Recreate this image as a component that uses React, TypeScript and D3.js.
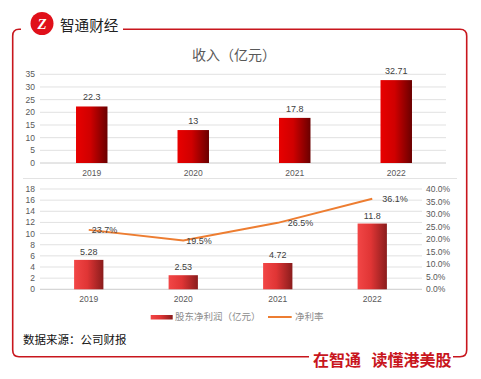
import React from "react";
import * as d3 from "d3";

const years = ["2019", "2020", "2021", "2022"];
const revenue = [22.3, 13, 17.8, 32.71];
const revenueLabels = ["22.3", "13", "17.8", "32.71"];
const profit = [5.28, 2.53, 4.72, 11.8];
const profitLabels = ["5.28", "2.53", "4.72", "11.8"];
const margin = [0.237, 0.195, 0.265, 0.361];
const marginLabels = ["23.7%", "19.5%", "26.5%", "36.1%"];
const topTicks = [0, 5, 10, 15, 20, 25, 30, 35];
const leftTicks = [0, 2, 4, 6, 8, 10, 12, 14, 16, 18];
const rightTicks = [0, 0.05, 0.1, 0.15, 0.2, 0.25, 0.3, 0.35, 0.4];

const RED = "#c8161d";
const AX = "#595959";
const GRID = "#d9d9d9";
const FONT = "'Liberation Sans', 'Noto Sans CJK SC', sans-serif";
const CJK = "'Noto Sans CJK SC', sans-serif";

export default function App() {
  const yTop = d3.scaleLinear().domain([0, 35]).range([163, 74.3]);
  const xTop = d3.scaleBand<string>().domain(years).range([41, 447]).paddingInner(0.69).paddingOuter(0.345);
  const yL = d3.scaleLinear().domain([0, 18]).range([289.3, 189]);
  const yR = d3.scaleLinear().domain([0, 0.4]).range([289.3, 189]);
  const xB = d3.scaleBand<string>().domain(years).range([41.5, 419.5]).paddingInner(0.69).paddingOuter(0.345);
  const line = d3
    .line<number>()
    .x((_, i) => (xB(years[i]) as number) + xB.bandwidth() / 2)
    .y((d) => yR(d));

  return (
    <svg
      width={481}
      height={379}
      style={{ position: "absolute", left: 0, top: 0, background: "#fff" }}
      fontFamily={FONT}
    >
      <defs>
        <linearGradient id="gTop" x1="0" x2="1" y1="0" y2="0">
          <stop offset="0" stopColor="#e80000" />
          <stop offset="0.45" stopColor="#d00000" />
          <stop offset="1" stopColor="#6a0000" />
        </linearGradient>
        <linearGradient id="gBot" x1="0" x2="1" y1="0" y2="0">
          <stop offset="0" stopColor="#f24646" />
          <stop offset="0.45" stopColor="#e03535" />
          <stop offset="1" stopColor="#8a1c1c" />
        </linearGradient>
      </defs>
      <rect x={0} y={0} width={481} height={379} fill="#fff" />

      <path
        d="M21,29.3 L19,29.3 Q12.7,29.3 12.7,36 L12.7,350 Q12.7,356.7 19,356.7 L309,356.7"
        fill="none"
        stroke={RED}
        strokeWidth={1.6}
      />
      <path
        d="M123,29.3 L460,29.3 Q466.7,29.3 466.7,36 L466.7,350 Q466.7,356.7 460,356.7 L453,356.7"
        fill="none"
        stroke={RED}
        strokeWidth={1.6}
      />
      <circle cx={42} cy={23.5} r={11.5} fill="#e0101a" />
      <text x={42} y={29} textAnchor="middle" fill="#fff" fontSize={15} fontWeight="bold" fontStyle="italic" fontFamily="'Liberation Serif', serif">
        Z
      </text>
      <text x={60} y={30.5} fill="#222" fontSize={14.6} fontFamily={CJK}>
        智通财经
      </text>
      <text x={313} y={366} fill={RED} fontSize={16} fontWeight="bold" fontFamily={CJK}>
        在智通
      </text>
      <text x={371.5} y={366} fill={RED} fontSize={16} fontWeight="bold" fontFamily={CJK}>
        读懂港美股
      </text>

      <text x={234} y={60} textAnchor="middle" fill={AX} fontSize={14} fontFamily={CJK}>
        收入（亿元）
      </text>
      {topTicks.map((t) => (
        <g key={"tt" + t}>
          <line x1={40} x2={446} y1={yTop(t)} y2={yTop(t)} stroke={t === 0 ? "#bfbfbf" : GRID} strokeWidth={0.8} />
          <text x={35} y={yTop(t) + 3} textAnchor="end" fill={AX} fontSize={8.5}>
            {t}
          </text>
        </g>
      ))}
      {years.map((y, i) => {
        const x = xTop(y) as number;
        const w = xTop.bandwidth();
        return (
          <g key={"tb" + y}>
            <rect x={x} y={yTop(revenue[i])} width={w} height={yTop(0) - yTop(revenue[i])} fill="url(#gTop)" />
            <text x={x + w / 2} y={yTop(revenue[i]) - 6} textAnchor="middle" fill="#404040" fontSize={9}>
              {revenueLabels[i]}
            </text>
            <text x={x + w / 2} y={175.5} textAnchor="middle" fill={AX} fontSize={8.5}>
              {y}
            </text>
          </g>
        );
      })}

      <line x1={23} x2={457} y1={178.5} y2={178.5} stroke="#e3e3e3" strokeWidth={1} />
      {leftTicks.map((t) => (
        <g key={"lt" + t}>
          <line x1={40} x2={422} y1={yL(t)} y2={yL(t)} stroke={t === 0 ? "#bfbfbf" : GRID} strokeWidth={0.8} />
          <text x={35} y={yL(t) + 3} textAnchor="end" fill={AX} fontSize={8.5}>
            {t}
          </text>
        </g>
      ))}
      {rightTicks.map((t) => (
        <text key={"rt" + t} x={426} y={yR(t) + 3} textAnchor="start" fill={AX} fontSize={8.5}>
          {(t * 100).toFixed(1) + "%"}
        </text>
      ))}
      {years.map((y, i) => {
        const x = xB(y) as number;
        const w = xB.bandwidth();
        return (
          <g key={"bb" + y}>
            <rect x={x} y={yL(profit[i])} width={w} height={yL(0) - yL(profit[i])} fill="url(#gBot)" />
            <text x={x + w / 2} y={yL(profit[i]) - 5} textAnchor="middle" fill="#404040" fontSize={9}>
              {profitLabels[i]}
            </text>
            <text x={x + w / 2} y={302} textAnchor="middle" fill={AX} fontSize={8.5}>
              {y}
            </text>
          </g>
        );
      })}
      <path d={line(margin) || ""} fill="none" stroke="#ed7d31" strokeWidth={2} />
      {years.map((y, i) => {
        const cx = (xB(y) as number) + xB.bandwidth() / 2;
        return (
          <text key={"ml" + y} x={cx + (i < 2 ? 3 : 10)} y={yR(margin[i]) + 3.5} fill="#404040" fontSize={9}>
            {marginLabels[i]}
          </text>
        );
      })}

      <rect x={150.7} y={315} width={22} height={4.5} fill="url(#gBot)" />
      <text x={175} y={320} fill="#8c8c8c" fontSize={9.5} fontFamily={CJK}>
        股东净利润（亿元）
      </text>
      <line x1={268} x2={291.7} y1={317} y2={317} stroke="#ed7d31" strokeWidth={2} />
      <text x={295} y={320} fill="#8c8c8c" fontSize={9.5} fontFamily={CJK}>
        净利率
      </text>

      <text x={23} y={343.5} fill="#111" fontSize={11.5} fontFamily={CJK}>
        数据来源：公司财报
      </text>
    </svg>
  );
}
